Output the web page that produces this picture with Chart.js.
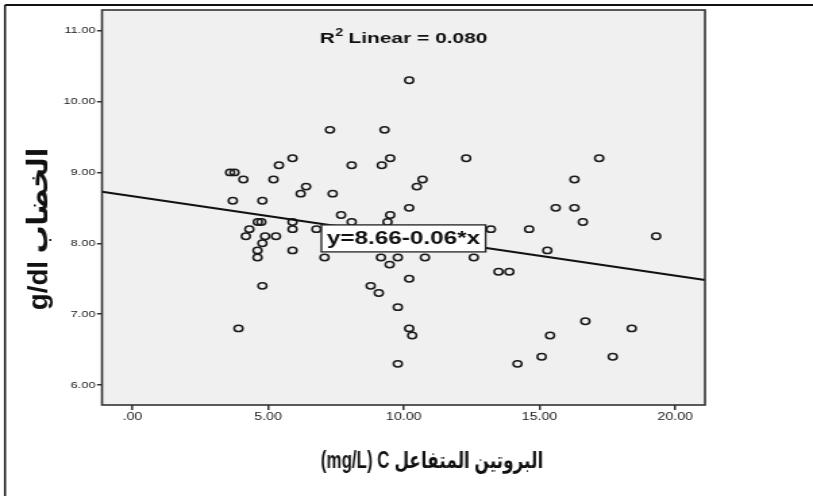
<!DOCTYPE html>
<html>
<head>
<meta charset="utf-8">
<script src="https://cdn.jsdelivr.net/npm/chart.js@4.4.0/dist/chart.umd.min.js"></script>
<style>
  html, body { margin: 0; padding: 0; background: #fff; overflow: hidden; }
  #chart { display: block; }
</style>
</head>
<body>
<!-- the source picture is stretched sideways, so the canvas is drawn narrow and widened by css -->
<canvas id="chart" width="602" height="496" style="width:813px;height:496px"></canvas>
<script>
// C-reactive protein (mg/L) on x, haemoglobin (g/dl) on y
const crpValues = [
  3.60, 3.76, 4.09, 5.40, 5.90, 5.20, 3.70, 4.79, 4.62, 4.75,
  4.31, 4.18, 4.89, 5.29, 4.79, 4.61, 4.61, 4.79, 3.91, 5.90,
  5.90, 5.90, 10.20, 7.28, 9.29, 8.08, 9.19, 9.50, 12.30, 10.69,
  10.48, 6.40, 6.20, 7.38, 10.20, 7.69, 9.50, 8.08, 9.40, 6.78,
  13.21, 14.62, 7.08, 9.16, 9.78, 10.78, 12.58, 9.48, 13.49, 13.89,
  10.20, 8.78, 9.08, 9.78, 10.20, 10.31, 9.78, 14.19, 17.20, 16.29,
  15.60, 16.29, 16.60, 19.30, 15.29, 16.69, 18.40, 15.39, 15.08, 17.70
];
const hbValues = [
  9.00, 9.00, 8.90, 9.10, 9.20, 8.90, 8.60, 8.60, 8.30, 8.30,
  8.20, 8.10, 8.10, 8.10, 8.00, 7.90, 7.80, 7.40, 6.80, 8.30,
  8.20, 7.90, 10.30, 9.60, 9.60, 9.10, 9.10, 9.20, 9.20, 8.90,
  8.80, 8.80, 8.70, 8.70, 8.50, 8.40, 8.40, 8.30, 8.30, 8.20,
  8.20, 8.20, 7.80, 7.80, 7.80, 7.80, 7.80, 7.70, 7.60, 7.60,
  7.50, 7.40, 7.30, 7.10, 6.80, 6.70, 6.30, 6.30, 9.20, 8.90,
  8.50, 8.50, 8.30, 8.10, 7.90, 6.90, 6.80, 6.70, 6.40, 6.40
];
const xTickValues = [0, 5, 10, 15, 20];
const yTickValues = [6, 7, 8, 9, 10, 11];

// fitted line
const fitIntercept = 8.664;
const fitSlope = -0.056;
const fitLabel = 'y=8.66-0.06*x';
const r2Text = 'Linear = 0.080';

const xTitle = '(mg/L) C البروتين المتفاعل';
const yTitle = 'g/dl الخضاب';

const xMin = -1.12, xMax = 21.1;
const yMin = 5.72, yMax = 11.29;

const STRETCH = 813 / 602;
const sx = v => v / STRETCH; // screen px -> canvas px (horizontal only)
const FONT = "'Liberation Sans', 'DejaVu Sans', Arial, sans-serif";

const fitY = x => fitIntercept + fitSlope * x;
const fmtTick = v => (v === 0 ? '.00' : v.toFixed(2));

const decorations = {
  id: 'decorations',
  beforeDraw(chart) {
    const { ctx, chartArea: a } = chart;
    ctx.save();
    ctx.fillStyle = '#fff';
    ctx.fillRect(0, 0, chart.width, chart.height);
    ctx.fillStyle = '#f0f0f0';
    ctx.fillRect(a.left, a.top, a.right - a.left, a.bottom - a.top);

    // outer frame, only top and left edge are inside the picture
    ctx.strokeStyle = '#111';
    ctx.lineWidth = 2;
    ctx.beginPath();
    ctx.moveTo(sx(5), 5);
    ctx.lineTo(chart.width + 5, 5);
    ctx.stroke();
    ctx.lineWidth = sx(2);
    ctx.beginPath();
    ctx.moveTo(sx(5), 5);
    ctx.lineTo(sx(5), chart.height + 5);
    ctx.stroke();
    ctx.restore();
  },
  afterDraw(chart) {
    const { ctx, chartArea: a } = chart;
    const xs = chart.scales.x, ys = chart.scales.y;
    ctx.save();

    // plot frame
    ctx.strokeStyle = '#333';
    ctx.lineWidth = 1.6;
    ctx.strokeRect(a.left, a.top, a.right - a.left, a.bottom - a.top);

    // equation label sits on the line at the middle of the x range
    const midX = (xMin + xMax) / 2;
    const cx = xs.getPixelForValue(midX);
    const cy = ys.getPixelForValue(fitY(midX)) + 2.5;
    ctx.font = `bold 18px ${FONT}`;
    const tw = ctx.measureText(fitLabel).width;
    const bw = tw + 8, bh = 27;
    ctx.fillStyle = '#fff';
    ctx.fillRect(cx - bw / 2, cy - bh / 2, bw, bh);
    ctx.strokeStyle = '#222';
    ctx.lineWidth = 1.3;
    ctx.strokeRect(cx - bw / 2, cy - bh / 2, bw, bh);
    ctx.fillStyle = '#111';
    ctx.textAlign = 'center';
    ctx.textBaseline = 'middle';
    ctx.fillText(fitLabel, cx, cy + 1);

    // R² title
    const big = `bold 15.5px ${FONT}`, small = `bold 10.5px ${FONT}`;
    ctx.textAlign = 'left';
    ctx.textBaseline = 'alphabetic';
    ctx.font = big;
    const wR = ctx.measureText('R').width;
    const wRest = ctx.measureText(' ' + r2Text).width;
    ctx.font = small;
    const w2 = ctx.measureText('2').width;
    let tx = (a.left + a.right) / 2 - (wR + w2 + wRest) / 2;
    const base = 43;
    ctx.font = big;
    ctx.fillText('R', tx, base);
    tx += wR;
    ctx.font = small;
    ctx.fillText('2', tx + 0.5, base - 7);
    tx += w2;
    ctx.font = big;
    ctx.fillText(' ' + r2Text, tx, base);

    // axis titles (narrow tall bold face in the source, so squeeze them)
    ctx.textAlign = 'center';
    ctx.textBaseline = 'middle';
    ctx.save();
    ctx.font = `bold 23px ${FONT}`;
    ctx.translate(sx(432), 462);
    ctx.scale(0.545, 1);
    ctx.fillText(xTitle, 0, 0);
    ctx.restore();

    ctx.font = `bold 21px ${FONT}`;
    ctx.translate(sx(40), 229);
    ctx.rotate(-Math.PI / 2);
    ctx.scale(1.32, 1);
    ctx.fillText(yTitle, 0, 0);
    ctx.restore();
  }
};

const points = crpValues.map((x, i) => ({ x, y: hbValues[i] }));
const fitLine = [xMin, xMax].map(x => ({ x, y: fitY(x) }));

const canvas = document.getElementById('chart');
new Chart(canvas, {
  type: 'scatter',
  data: {
    datasets: [
      {
        label: 'fit',
        type: 'line',
        data: fitLine,
        borderColor: '#111',
        borderWidth: 2,
        pointRadius: 0,
        fill: false
      },
      {
        label: 'Hb',
        data: points,
        pointStyle: 'circle',
        pointRadius: 3.2,
        borderWidth: 1.5,
        borderColor: '#1a1a1a',
        backgroundColor: 'rgba(0,0,0,0)'
      }
    ]
  },
  options: {
    responsive: false,
    animation: false,
    devicePixelRatio: 1,
    layout: { padding: { top: 10, right: 602 - sx(705), left: 0, bottom: 0 } },
    plugins: {
      legend: { display: false },
      title: { display: false },
      tooltip: { enabled: false }
    },
    scales: {
      x: {
        type: 'linear',
        min: xMin,
        max: xMax,
        afterBuildTicks: s => { s.ticks = xTickValues.map(value => ({ value })); },
        afterFit: s => { s.height = 496 - 405; },
        border: { display: false },
        grid: { drawOnChartArea: false, drawTicks: true, tickLength: 5, color: '#333', lineWidth: 1.5 },
        ticks: {
          autoSkip: false,
          maxRotation: 0,
          padding: 1,
          color: '#222',
          font: { family: FONT, size: 10.5 },
          callback: v => fmtTick(v)
        }
      },
      y: {
        type: 'linear',
        min: yMin,
        max: yMax,
        afterBuildTicks: s => { s.ticks = yTickValues.map(value => ({ value })); },
        afterFit: s => { s.width = sx(102); },
        border: { display: false },
        grid: { drawOnChartArea: false, drawTicks: true, tickLength: sx(5), color: '#333', lineWidth: 1.5 },
        ticks: {
          autoSkip: false,
          padding: 1,
          color: '#222',
          font: { family: FONT, size: 9.5 },
          callback: v => fmtTick(v)
        }
      }
    }
  },
  plugins: [decorations]
});
// keep the sideways stretch even if the library rewrote the style
canvas.style.width = '813px';
canvas.style.height = '496px';
</script>
</body>
</html>
